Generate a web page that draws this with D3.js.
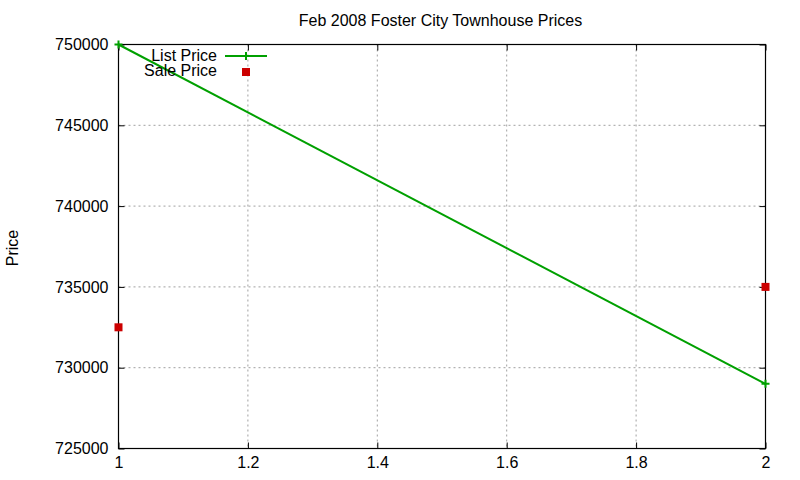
<!DOCTYPE html>
<html><head><meta charset="utf-8">
<script src="https://cdn.jsdelivr.net/npm/d3@7"></script>
<style>body{margin:0;background:#fff}svg{display:block}text{font-family:"Liberation Sans",Arial,sans-serif;font-size:16px;fill:#000}</style>
</head><body><svg id="c" width="800" height="480"></svg>
<script>
const title = "Feb 2008 Foster City Townhouse Prices";
const yLabel = "Price";
const xTicks = [1, 1.2, 1.4, 1.6, 1.8, 2];
const yTicks = [725000, 730000, 735000, 740000, 745000, 750000];
const listX = [1, 2];
const listPrice = [750000, 729000];
const saleX = [1, 2];
const salePrice = [732500, 735000];
const seriesNames = ["List Price", "Sale Price"];

const svg = d3.select("#c");
const L = 118.5, R = 765.5, T = 44.5, B = 448.5;
const x = d3.scaleLinear().domain([1, 2]).range([L, R]);
const y = d3.scaleLinear().domain([725000, 750000]).range([B, T]);
const green = "#00a000", red = "#cc0000";
const FONT = '"Liberation Sans",Arial,sans-serif';

// grid
const g = svg.append("g");
g.selectAll("line.gx").data(xTicks.slice(1, -1)).join("line")
  .attr("x1", d => x(d)).attr("x2", d => x(d)).attr("y1", T).attr("y2", B)
  .attr("stroke", "#a0a0a0").attr("stroke-dasharray", "2,3").attr("stroke-width", 1);
g.selectAll("line.gy").data(yTicks.slice(1, -1)).join("line")
  .attr("y1", d => y(d)).attr("y2", d => y(d)).attr("x1", L).attr("x2", R)
  .attr("stroke", "#a0a0a0").attr("stroke-dasharray", "2,3").attr("stroke-width", 1);

// axes with inward ticks
const tk = 6;
svg.append("g").attr("transform", `translate(0,${B})`)
  .call(d3.axisBottom(x).tickValues(xTicks).tickSize(-tk).tickPadding(8).tickFormat(d3.format("~g")))
  .call(a => a.select(".domain").remove());
svg.append("g").attr("transform", `translate(0,${T})`)
  .call(d3.axisTop(x).tickValues(xTicks).tickSize(-tk).tickFormat(""))
  .call(a => a.select(".domain").remove());
svg.append("g").attr("transform", `translate(${L},0)`)
  .call(d3.axisLeft(y).tickValues(yTicks).tickSize(-tk).tickPadding(10).tickFormat(d3.format("d")))
  .call(a => a.select(".domain").remove());
svg.append("g").attr("transform", `translate(${R},0)`)
  .call(d3.axisRight(y).tickValues(yTicks).tickSize(-tk).tickFormat(""))
  .call(a => a.select(".domain").remove());
svg.selectAll(".tick text").style("font-size", "16px").attr("fill", "#000").style("font-family", FONT);
svg.selectAll(".tick line").attr("stroke", "#000");

svg.append("rect").attr("x", L).attr("y", T).attr("width", R - L).attr("height", B - T)
  .attr("fill", "none").attr("stroke", "#000").attr("stroke-width", 1.2);

// title, y label
svg.append("text").attr("x", 440.5).attr("y", 26).attr("text-anchor", "middle").text(title);
svg.append("text").attr("transform", "translate(18,248) rotate(-90)").attr("text-anchor", "middle").text(yLabel);

// list price line
const line = d3.line().x(d => x(d[0])).y(d => y(d[1]));
const listData = listX.map((d, i) => [d, listPrice[i]]);
svg.append("path").datum(listData).attr("d", line).attr("fill", "none")
  .attr("stroke", green).attr("stroke-width", 2);
const plus = (sel, cx, cy) => {
  sel.append("path").attr("d", `M${cx - 4},${cy}H${cx + 4}M${cx},${cy - 4}V${cy + 4}`)
    .attr("stroke", green).attr("stroke-width", 2);
};
listData.forEach(d => plus(svg, x(d[0]), y(d[1])));

// sale price squares
const saleData = saleX.map((d, i) => [d, salePrice[i]]);
svg.selectAll("rect.sale").data(saleData).join("rect")
  .attr("x", d => x(d[0]) - 4).attr("y", d => y(d[1]) - 4).attr("width", 8).attr("height", 8)
  .attr("fill", red);

// legend
svg.append("text").attr("x", 217).attr("y", 61).attr("text-anchor", "end").text(seriesNames[0]);
svg.append("text").attr("x", 217).attr("y", 76).attr("text-anchor", "end").text(seriesNames[1]);
svg.append("line").attr("x1", 225).attr("x2", 267).attr("y1", 56).attr("y2", 56)
  .attr("stroke", green).attr("stroke-width", 2);
plus(svg, 246, 56);
svg.append("rect").attr("x", 242).attr("y", 68).attr("width", 8).attr("height", 8).attr("fill", red);
</script></body></html>
